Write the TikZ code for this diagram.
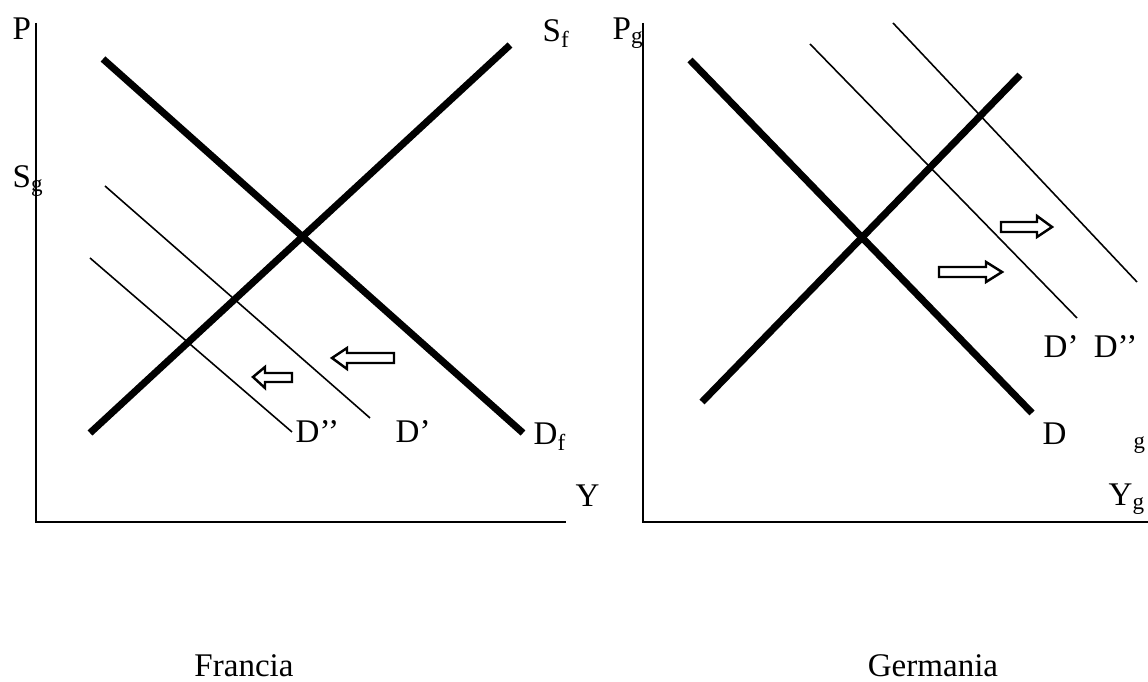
\documentclass[tikz,border=0pt]{standalone}
\usepackage{fontspec}
\setmainfont{Liberation Serif}
\usetikzlibrary{positioning}

\begin{document}
\begin{tikzpicture}[
    x=0.1mm, y=-0.1mm,
    % Custom styles for axes, curves and labels
    axis/.style={line width=0.7pt},
    curve/.style={line width=2pt},
    shifted/.style={line width=0.45pt},
    blockarrow/.style={line width=0.7pt, fill=white, line join=miter},
    lbl/.style={font=\fontsize{9.4}{11}\selectfont, inner sep=0pt, anchor=base west},
    title/.style={lbl, anchor=base},
]
\useasboundingbox (0,0) rectangle (1148,682);

% ==========================================
% LEFT: FRANCIA
% ==========================================
% 1. The axes
\draw[axis] (36,23) -- (36,522) -- (566,522);

% 2. Supply and demand (thick)
\draw[curve] (103,59) -- (523,433);
\draw[curve] (90,433) -- (510,45);

% 3. Shifted demand (thin)
\draw[shifted] (105,186) -- (370,418);
\draw[shifted] (90,258) -- (292,432);

% 4. Shift arrows
\draw[blockarrow] (332,358) -- (347,348) -- (347,353) -- (394,353) -- (394,363) -- (347,363) -- (347,369) -- cycle;
\draw[blockarrow] (253,377) -- (265,367) -- (265,373) -- (292,373) -- (292,382) -- (265,382) -- (265,388) -- cycle;

% 5. Labels
\node[lbl] (fr_p) at (12,40) {P};
\node[lbl] (fr_sg) at (12,188) {S\textsubscript{g}};
\node[lbl] (fr_sf) at (542,42) {S\textsubscript{f}};
\node[lbl] (fr_df) at (533,445) {D\textsubscript{f}};
\node[lbl] (fr_d2) at (295,443) {D’’};
\node[lbl] (fr_d1) at (395,443) {D’};
\node[lbl] (fr_y) at (575,507) {Y};
\node[title] (fr_title) at (244,677) {Francia};

% ==========================================
% RIGHT: GERMANIA
% ==========================================
% 1. The axes
\draw[axis] (643,23) -- (643,522) -- (1148,522);

% 2. Supply and demand (thick)
\draw[curve] (690,60) -- (1032,413);
\draw[curve] (702,402) -- (1020,75);

% 3. Shifted demand (thin)
\draw[shifted] (810,44) -- (1077,318);
\draw[shifted] (893,23) -- (1137,282);

% 4. Shift arrows
\draw[blockarrow] (1002,272) -- (986,262) -- (986,267) -- (939,267) -- (939,277) -- (986,277) -- (986,282) -- cycle;
\draw[blockarrow] (1052,227) -- (1037,216) -- (1037,222) -- (1001,222) -- (1001,232) -- (1037,232) -- (1037,237) -- cycle;

% 5. Labels
\node[lbl] (ge_p) at (612,40) {P\textsubscript{g}};
\node[lbl] (ge_dd) at (1043,358) {D’\hspace{2pt} D’’};
\node[lbl] (ge_d) at (1042,445) {D};
\node[lbl, font=\fontsize{6.5}{8}\selectfont] (ge_g) at (1133,449) {g};
\node[lbl] (ge_y) at (1108,506) {Y\textsubscript{g}};
\node[title] (ge_title) at (933,677) {Germania};

\end{tikzpicture}
\end{document}
